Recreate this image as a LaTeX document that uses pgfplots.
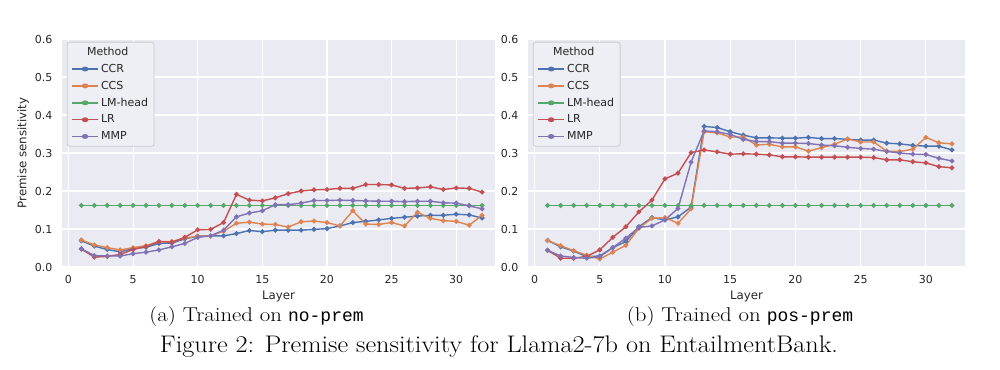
\documentclass[border=0pt]{standalone}
\usepackage{fontspec}
\usepackage{graphicx}
\usepackage{pgfplots}
\usepackage{pgfplotstable}
\pgfplotsset{compat=1.18}
\newfontfamily\dejavu{DejaVu Sans}
\newfontfamily\capmono{Liberation Mono}
\definecolor{sbblue}{HTML}{4C72B0}
\definecolor{sborange}{HTML}{DD8452}
\definecolor{sbgreen}{HTML}{55A868}
\definecolor{sbred}{HTML}{C44E52}
\definecolor{sbpurple}{HTML}{8172B3}
\definecolor{sbbg}{HTML}{EAEAF2}
\definecolor{legbg}{HTML}{EEEEF5}
\definecolor{legedge}{HTML}{CCCCCC}
\definecolor{txt}{HTML}{262626}

\pgfplotstableread{
layer ccr ccs lm lr mmp
1 0.069 0.071 0.162 0.047 0.048
2 0.055 0.058 0.162 0.026 0.030
3 0.046 0.051 0.162 0.028 0.029
4 0.040 0.045 0.162 0.033 0.029
5 0.048 0.051 0.162 0.046 0.035
6 0.052 0.056 0.162 0.054 0.039
7 0.062 0.067 0.162 0.067 0.045
8 0.063 0.067 0.162 0.065 0.053
9 0.074 0.076 0.162 0.078 0.062
10 0.081 0.081 0.162 0.098 0.078
11 0.082 0.082 0.162 0.099 0.082
12 0.082 0.094 0.162 0.117 0.097
13 0.088 0.115 0.162 0.191 0.132
14 0.096 0.118 0.162 0.176 0.142
15 0.093 0.113 0.162 0.174 0.148
16 0.097 0.112 0.162 0.182 0.164
17 0.097 0.105 0.162 0.193 0.164
18 0.097 0.119 0.162 0.200 0.168
19 0.099 0.121 0.162 0.203 0.175
20 0.101 0.117 0.162 0.204 0.175
21 0.108 0.108 0.162 0.207 0.176
22 0.117 0.148 0.162 0.207 0.175
23 0.120 0.113 0.162 0.217 0.174
24 0.124 0.112 0.162 0.217 0.173
25 0.128 0.117 0.162 0.216 0.173
26 0.131 0.108 0.162 0.207 0.172
27 0.134 0.144 0.162 0.208 0.173
28 0.136 0.128 0.162 0.211 0.173
29 0.136 0.122 0.162 0.204 0.169
30 0.139 0.120 0.162 0.208 0.168
31 0.137 0.110 0.162 0.207 0.161
32 0.129 0.136 0.162 0.197 0.153
}\tableA

\pgfplotstableread{
layer ccr ccs lm lr mmp
1 0.070 0.070 0.162 0.044 0.044
2 0.053 0.056 0.162 0.023 0.029
3 0.042 0.043 0.162 0.023 0.025
4 0.027 0.031 0.162 0.028 0.023
5 0.029 0.021 0.162 0.045 0.027
6 0.051 0.039 0.162 0.078 0.051
7 0.067 0.057 0.162 0.106 0.076
8 0.106 0.102 0.162 0.145 0.104
9 0.130 0.128 0.162 0.176 0.108
10 0.124 0.130 0.162 0.232 0.124
11 0.132 0.115 0.162 0.247 0.154
12 0.158 0.153 0.162 0.301 0.276
13 0.370 0.356 0.162 0.308 0.358
14 0.367 0.353 0.162 0.303 0.356
15 0.356 0.342 0.162 0.297 0.349
16 0.347 0.342 0.162 0.298 0.336
17 0.340 0.321 0.162 0.297 0.330
18 0.340 0.323 0.162 0.295 0.330
19 0.339 0.316 0.162 0.290 0.326
20 0.339 0.316 0.162 0.290 0.326
21 0.341 0.305 0.162 0.289 0.325
22 0.338 0.314 0.162 0.289 0.321
23 0.338 0.323 0.162 0.289 0.319
24 0.336 0.337 0.162 0.289 0.315
25 0.334 0.329 0.162 0.289 0.312
26 0.334 0.329 0.162 0.288 0.310
27 0.326 0.305 0.162 0.282 0.304
28 0.324 0.304 0.162 0.282 0.300
29 0.320 0.310 0.162 0.277 0.297
30 0.318 0.341 0.162 0.274 0.296
31 0.318 0.327 0.162 0.264 0.286
32 0.308 0.324 0.162 0.261 0.279
}\tableB

\pgfplotsset{sbstyle/.style={
  scale only axis, height=228pt,
  xmin=-0.5, xmax=33, ymin=0, ymax=0.6,
  axis background/.style={fill=sbbg},
  axis line style={draw=none},
  major tick length=0pt,
  grid=major, major grid style={white, line width=1.1pt},
  xtick={0,5,...,30}, ytick={0,0.1,...,0.6},
  /pgf/number format/assume math mode=true,
  tick label style={font=\dejavu\fontsize{11}{13}\selectfont, text=txt},
  xticklabel style={yshift=-5pt},
  yticklabel style={xshift=-6pt, /pgf/number format/fixed, /pgf/number format/fixed zerofill, /pgf/number format/precision=1},
  label style={font=\dejavu\fontsize{11.8}{14}\selectfont, text=txt},
  xlabel=Layer,
  xlabel style={at={(axis description cs:0.5,-0.13)}, anchor=center},
  every axis plot/.append style={line width=1.4pt, mark=*, mark size=1.7pt, mark options={solid}},
  legend image post style={xscale=1.55},
  legend cell align=left,
  legend style={at={(rel axis cs:0.011,0.988)}, anchor=north west,
    fill=legbg, draw=legedge, line width=0.8pt, rounded corners=2.5pt,
    font=\dejavu\fontsize{11}{13}\selectfont, text=txt,
    row sep=3.2pt, inner xsep=4pt, inner ysep=3pt},
}}

\begin{document}
\begin{tikzpicture}
\useasboundingbox (0,0) rectangle (1000pt,369pt);
\begin{axis}[sbstyle, width=433pt, at={(62pt,102pt)}, anchor=south west,
  ylabel=Premise sensitivity,
  ylabel style={at={(axis description cs:-0.09,0.5)}, anchor=center}]
\addlegendimage{empty legend}
\addlegendentry{\hspace*{-14pt}Method}
\addplot[sbblue] table[x=layer,y=ccr]{\tableA};
\addlegendentry{CCR}
\addplot[sborange] table[x=layer,y=ccs]{\tableA};
\addlegendentry{CCS}
\addplot[sbgreen] table[x=layer,y=lm]{\tableA};
\addlegendentry{LM-head}
\addplot[sbred] table[x=layer,y=lr]{\tableA};
\addlegendentry{LR}
\addplot[sbpurple] table[x=layer,y=mmp]{\tableA};
\addlegendentry{MMP}
\end{axis}
\begin{axis}[sbstyle, width=437pt, at={(528pt,102pt)}, anchor=south west]
\addlegendimage{empty legend}
\addlegendentry{\hspace*{-14pt}Method}
\addplot[sbblue] table[x=layer,y=ccr]{\tableB};
\addlegendentry{CCR}
\addplot[sborange] table[x=layer,y=ccs]{\tableB};
\addlegendentry{CCS}
\addplot[sbgreen] table[x=layer,y=lm]{\tableB};
\addlegendentry{LM-head}
\addplot[sbred] table[x=layer,y=lr]{\tableB};
\addlegendentry{LR}
\addplot[sbpurple] table[x=layer,y=mmp]{\tableB};
\addlegendentry{MMP}
\end{axis}
\node[font=\fontsize{20}{24}\selectfont, inner sep=0pt] at (256.5pt,52pt) {\scalebox{1.14}[1]{(a) Trained on} {\capmono\fontsize{18}{22}\selectfont no-prem}};
\node[font=\fontsize{20}{24}\selectfont, inner sep=0pt] at (740pt,52pt) {\scalebox{1.14}[1]{(b) Trained on} {\capmono\fontsize{18}{22}\selectfont pos-prem}};
\node[font=\fontsize{24}{28}\selectfont, inner sep=0pt] at (499pt,22pt) {\scalebox{1.094}[1]{Figure 2: Premise sensitivity for Llama2-7b on EntailmentBank.}};
\end{tikzpicture}
\end{document}
